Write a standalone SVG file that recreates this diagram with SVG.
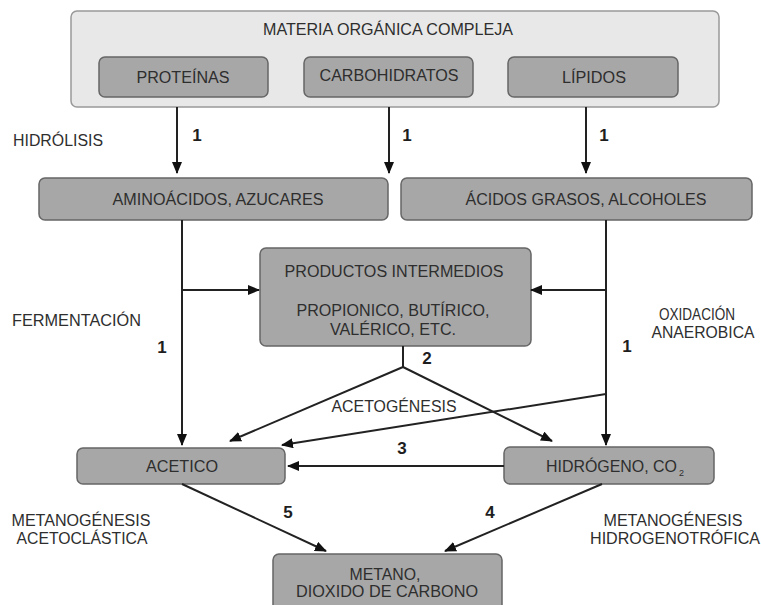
<svg xmlns="http://www.w3.org/2000/svg" width="761" height="605" viewBox="0 0 761 605">
<style>
  text { font-family: "Liberation Sans", Arial, sans-serif; fill: #2e2e2e; }
  .t { font-size: 16px; }
  .n { font-size: 17px; font-weight: bold; fill: #1e1e1e; }
  .node { fill: #a7a7a7; stroke: #666; stroke-width: 1.5; }
  .outer { fill: #e8e8e8; stroke: #999; stroke-width: 1.5; }
  .c line { stroke: #222; stroke-width: 2; fill: none; }
</style>
<defs>
  <marker id="ah" markerUnits="userSpaceOnUse" markerWidth="12" markerHeight="10" refX="11" refY="5" orient="auto">
    <path d="M0,0 L12,5 L0,10 Z" fill="#111"/>
  </marker>
</defs>
<rect width="761" height="605" fill="#fff"/>

<g id="materia">
  <rect class="outer" x="71" y="11" width="648" height="96" rx="6"/>
  <text class="t" x="388" y="35" text-anchor="middle" textLength="250" lengthAdjust="spacingAndGlyphs">MATERIA ORGÁNICA COMPLEJA</text>
</g>
<g id="proteinas">
  <rect class="node" x="99" y="57" width="169" height="40" rx="6"/>
  <text class="t" x="183" y="83" text-anchor="middle" textLength="93" lengthAdjust="spacingAndGlyphs">PROTEÍNAS</text>
</g>
<g id="carbohidratos">
  <rect class="node" x="304" y="57" width="169" height="40" rx="6"/>
  <text class="t" x="389" y="81" text-anchor="middle" textLength="139" lengthAdjust="spacingAndGlyphs">CARBOHIDRATOS</text>
</g>
<g id="lipidos">
  <rect class="node" x="508" y="57" width="170" height="40" rx="6"/>
  <text class="t" x="594" y="83" text-anchor="middle" textLength="64" lengthAdjust="spacingAndGlyphs">LÍPIDOS</text>
</g>
<g id="aminoacidos">
  <rect class="node" x="39" y="178" width="349" height="42" rx="6"/>
  <text class="t" x="218" y="205" text-anchor="middle" textLength="211" lengthAdjust="spacingAndGlyphs">AMINOÁCIDOS, AZUCARES</text>
</g>
<g id="acidos">
  <rect class="node" x="401" y="178" width="351" height="42" rx="6"/>
  <text class="t" x="586" y="205" text-anchor="middle" textLength="241" lengthAdjust="spacingAndGlyphs">ÁCIDOS GRASOS, ALCOHOLES</text>
</g>
<g id="productos">
  <rect class="node" x="260" y="248" width="271" height="98" rx="6"/>
  <text class="t" x="394" y="277" text-anchor="middle" textLength="219" lengthAdjust="spacingAndGlyphs">PRODUCTOS INTERMEDIOS</text>
  <text class="t" x="393" y="316" text-anchor="middle" textLength="193" lengthAdjust="spacingAndGlyphs">PROPIONICO, BUTÍRICO,</text>
  <text class="t" x="393" y="335" text-anchor="middle" textLength="126" lengthAdjust="spacingAndGlyphs">VALÉRICO, ETC.</text>
</g>
<g id="acetico">
  <rect class="node" x="77" y="448" width="208" height="36" rx="6"/>
  <text class="t" x="182" y="472" text-anchor="middle" textLength="72" lengthAdjust="spacingAndGlyphs">ACETICO</text>
</g>
<g id="hidrogeno">
  <rect class="node" x="504" y="447" width="210" height="37" rx="6"/>
  <text class="t" x="546" y="472" textLength="131" lengthAdjust="spacingAndGlyphs">HIDRÓGENO, CO</text>
  <text x="679" y="476" style="font-size:9px">2</text>
</g>
<g id="metano">
  <rect class="node" x="273" y="554" width="229" height="60" rx="6"/>
  <text class="t" x="385" y="580" text-anchor="middle" textLength="71" lengthAdjust="spacingAndGlyphs">METANO,</text>
  <text class="t" x="387" y="597" text-anchor="middle" textLength="182" lengthAdjust="spacingAndGlyphs">DIOXIDO DE CARBONO</text>
</g>

<g id="connectors" class="c">
  <line x1="177" y1="107" x2="177" y2="173" marker-end="url(#ah)"/>
  <line x1="389" y1="107" x2="389" y2="173" marker-end="url(#ah)"/>
  <line x1="586" y1="107" x2="586" y2="173" marker-end="url(#ah)"/>
  <line x1="182" y1="220" x2="182" y2="445" marker-end="url(#ah)"/>
  <line x1="182" y1="290" x2="259" y2="290" marker-end="url(#ah)"/>
  <line x1="606" y1="220" x2="606" y2="445" marker-end="url(#ah)"/>
  <line x1="606" y1="290" x2="531" y2="290" marker-end="url(#ah)"/>
  <line x1="403" y1="346" x2="403" y2="368"/>
  <line x1="403" y1="367" x2="230" y2="441" marker-end="url(#ah)"/>
  <line x1="403" y1="367" x2="552" y2="441" marker-end="url(#ah)"/>
  <line x1="606" y1="394" x2="282" y2="445" marker-end="url(#ah)"/>
  <line x1="504" y1="466" x2="288" y2="466" marker-end="url(#ah)"/>
  <line x1="182" y1="484" x2="326" y2="551" marker-end="url(#ah)"/>
  <line x1="602" y1="484" x2="445" y2="551" marker-end="url(#ah)"/>
</g>

<g id="labels">
  <text class="t" x="13" y="146" textLength="90" lengthAdjust="spacingAndGlyphs">HIDRÓLISIS</text>
  <text class="t" x="12" y="326" textLength="129" lengthAdjust="spacingAndGlyphs">FERMENTACIÓN</text>
  <text class="t" x="697" y="320" text-anchor="middle" textLength="76" lengthAdjust="spacingAndGlyphs">OXIDACIÓN</text>
  <text class="t" x="703" y="338" text-anchor="middle" textLength="103" lengthAdjust="spacingAndGlyphs">ANAEROBICA</text>
  <text class="t" x="394" y="412" text-anchor="middle" textLength="125" lengthAdjust="spacingAndGlyphs">ACETOGÉNESIS</text>
  <text class="t" x="81" y="526" text-anchor="middle" textLength="139" lengthAdjust="spacingAndGlyphs">METANOGÉNESIS</text>
  <text class="t" x="82" y="544" text-anchor="middle" textLength="131" lengthAdjust="spacingAndGlyphs">ACETOCLÁSTICA</text>
  <text class="t" x="673" y="526" text-anchor="middle" textLength="139" lengthAdjust="spacingAndGlyphs">METANOGÉNESIS</text>
  <text class="t" x="675" y="544" text-anchor="middle" textLength="170" lengthAdjust="spacingAndGlyphs">HIDROGENOTRÓFICA</text>
  <text class="n" x="197" y="141" text-anchor="middle">1</text>
  <text class="n" x="407" y="141" text-anchor="middle">1</text>
  <text class="n" x="604" y="141" text-anchor="middle">1</text>
  <text class="n" x="162" y="353" text-anchor="middle">1</text>
  <text class="n" x="627" y="352" text-anchor="middle">1</text>
  <text class="n" x="427" y="364" text-anchor="middle">2</text>
  <text class="n" x="402" y="454" text-anchor="middle">3</text>
  <text class="n" x="288" y="518" text-anchor="middle">5</text>
  <text class="n" x="490" y="518" text-anchor="middle">4</text>
</g>
</svg>
